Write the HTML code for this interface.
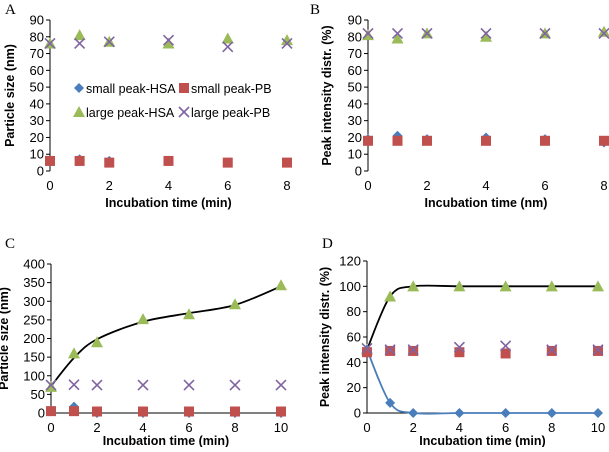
<!DOCTYPE html>
<html><head><meta charset="utf-8"><style>
body{margin:0;background:#fff;width:609px;height:447px;overflow:hidden}
svg{font-family:"Liberation Sans",sans-serif}
</style></head><body>
<svg id="s" width="609" height="447"></svg>
<script>
const xA=[0,1,2,4,6,8];
const aSmallHSA=[6,7,6,6,5,5], aSmallPB=[6,6,5,6,5,5], aLargeHSA=[76,81,77,76,79,78], aLargePB=[76,76,77,78,74,76];
const bSmallHSA=[19,21,19,20,19,17], bSmallPB=[18,18,18,18,18,18], bLargeHSA=[81,79,82,80,82,83], bLargePB=[82,82,82,82,82,82];
const xC=[0,1,2,4,6,8,10];
const cSmallHSA=[5,17,0,0,0,0,0], cSmallPB=[5,5,4,4,4,4,4], cLargeHSA=[70,160,190,252,265,292,343], cLargePB=[75,76,75,75,75,75,75];
const cFit=[72,148,198,245,268,290,340];
const dSmallHSA=[50,8,0,0,0,0,0], dSmallPB=[48,49,49,48,47,49,49], dLargeHSA=[50,92,100,100,100,100,100], dLargePB=[51,50,50,52,53,50,50];
const dFitLarge=[50,92,100,100,100,100,100], dFitSmall=[50,8,0,0,0,0,0];
const ticksA=[0,10,20,30,40,50,60,70,80,90], ticksC=[0,50,100,150,200,250,300,350,400], ticksD=[0,20,40,60,80,100,120];
const xticksA=[0,2,4,6,8], xticksC=[0,2,4,6,8,10];

const S=document.getElementById('s'),NS='http://www.w3.org/2000/svg';
function mk(t,a,p){const e=document.createElementNS(NS,t);for(const k in a)e.setAttribute(k,a[k]);(p||S).appendChild(e);return e;}
function txt(x,y,s,a,p){const e=mk('text',Object.assign({x:x,y:y},a),p);e.textContent=s;return e;}
function marker(type,x,y,g){
 let e;
 if(type==='d'){e=mk('polygon',{points:`${x},${y-5} ${x+5},${y} ${x},${y+5} ${x-5},${y}`,fill:'#4a7ebb'},g);}
 else if(type==='s'){e=mk('rect',{x:x-5,y:y-5,width:10,height:10,fill:'#c0504d'},g);}
 else if(type==='t'){e=mk('polygon',{points:`${x},${y-6} ${x+6},${y+5} ${x-6},${y+5}`,fill:'#9bbb59'},g);}
 else {e=mk('path',{d:`M${x-5} ${y-5}L${x+5} ${y+5}M${x+5} ${y-5}L${x-5} ${y+5}`,stroke:'#8064a2','stroke-width':1.6},g);}
 
 
 return e;
}
function smooth(pts){let d=`M${pts[0][0]} ${pts[0][1]}`;for(let i=0;i<pts.length-1;i++){const p0=pts[Math.max(0,i-1)],p1=pts[i],p2=pts[i+1],p3=pts[Math.min(pts.length-1,i+2)];
 d+=`C${p1[0]+(p2[0]-p0[0])/6} ${p1[1]+(p2[1]-p0[1])/6} ${p2[0]-(p3[0]-p1[0])/6} ${p2[1]-(p3[1]-p1[1])/6} ${p2[0]} ${p2[1]}`;}return d;}
function panel(o){
 const g=mk('g',{});
 
 
 const X=v=>o.x0+(o.x1-o.x0)*v/o.xmax, Y=v=>o.y0-(o.y0-o.y1)*v/o.ymax;
 const lab=txt(o.lx,o.ly,o.letter,{'font-family':'Liberation Serif','font-size':15},g);
 
 
 mk('line',{x1:o.x0,y1:o.y1,x2:o.x0,y2:o.y0,stroke:'#000','stroke-width':1},g);
 if(o.xaxis)mk('line',{x1:o.x0,y1:o.y0,x2:o.x1,y2:o.y0,stroke:'#000','stroke-width':1},g);
 o.yt.forEach(v=>{mk('line',{x1:o.x0-4,y1:Y(v),x2:o.x0,y2:Y(v),stroke:'#000'},g);
  const t=txt(o.x0-6,Y(v)+4.5,v,{'font-size':13,'text-anchor':'end'},g);
  
  });
 o.xt.forEach(v=>{const t=txt(X(v),o.y0+19,v,{'font-size':13,'text-anchor':'middle'},g);
  
  });
 const xt=txt((o.x0+o.x1)/2,o.xty,o.xtitle,{'font-size':12.5,'font-weight':'bold','text-anchor':'middle'},g);
 
 
 const yc=(o.y0+o.y1)/2;
 const yt=txt(o.ytx,yc,o.ytitle,{'font-size':12.5,'font-weight':'bold','text-anchor':'middle',transform:`rotate(-90 ${o.ytx} ${yc})`},g);
 
 
 (o.fits||[]).forEach(f=>{const p=mk('path',{d:smooth(o.xs.map((v,i)=>[X(v),Y(f.v[i])])),fill:'none',stroke:f.c,'stroke-width':1.8},g);
  
  });
 o.series.forEach(s=>s.v.forEach((v,i)=>marker(s.t,X(o.xs[i]),Y(v),g)));
 return g;
}
panel({name:'panel-a',letter:'A',lx:5,ly:14,x0:50,x1:287,y0:171,y1:20,xmax:8,ymax:90,yt:ticksA,xt:xticksA,xs:xA,xty:207,xtitle:'Incubation time (min)',ytx:14,ytitle:'Particle size (nm)',
 series:[{t:'t',v:aLargeHSA},{t:'x',v:aLargePB},{t:'d',v:aSmallHSA},{t:'s',v:aSmallPB}]});
panel({name:'panel-b',letter:'B',lx:310,ly:14,x0:368,x1:604,y0:171,y1:20,xmax:8,ymax:90,yt:ticksA,xt:xticksA,xs:xA,xty:207,xtitle:'Incubation time (nm)',ytx:331,ytitle:'Peak intensity distr. (%)',
 series:[{t:'t',v:bLargeHSA},{t:'x',v:bLargePB},{t:'d',v:bSmallHSA},{t:'s',v:bSmallPB}]});
panel({name:'panel-c',letter:'C',lx:5,ly:248,x0:51,x1:281,y0:413,y1:264,xmax:10,ymax:400,yt:ticksC,xt:xticksC,xs:xC,xaxis:true,xty:445,xtitle:'Incubation time (min)',ytx:8,ytitle:'Particle size (nm)',
 fits:[{c:'#000',v:cFit}],series:[{t:'t',v:cLargeHSA},{t:'x',v:cLargePB},{t:'d',v:cSmallHSA},{t:'s',v:cSmallPB}]});
panel({name:'panel-d',letter:'D',lx:322,ly:248,x0:367,x1:598,y0:413,y1:261,xmax:10,ymax:120,yt:ticksD,xt:xticksC,xs:xC,xaxis:true,xty:445,xtitle:'Incubation  time (min)',ytx:329,ytitle:'Peak intensity distr. (%)',
 fits:[{c:'#000',v:dFitLarge},{c:'#4a7ebb',v:dFitSmall}],series:[{t:'t',v:dLargeHSA},{t:'d',v:dSmallHSA},{t:'s',v:dSmallPB},{t:'x',v:dLargePB}]});
// legend
const lg=mk('g',{});


[[79,88,'d','small peak-HSA'],[184,88,'s','small peak-PB'],[79,112,'t','large peak-HSA'],[184,112,'x','large peak-PB']].forEach(e=>{
 marker(e[2],e[0],e[1],lg);
 const t=txt(e[0]+7,e[1]+5,e[3],{'font-size':12.5},lg);
 
 
});
</script>
</body></html>
